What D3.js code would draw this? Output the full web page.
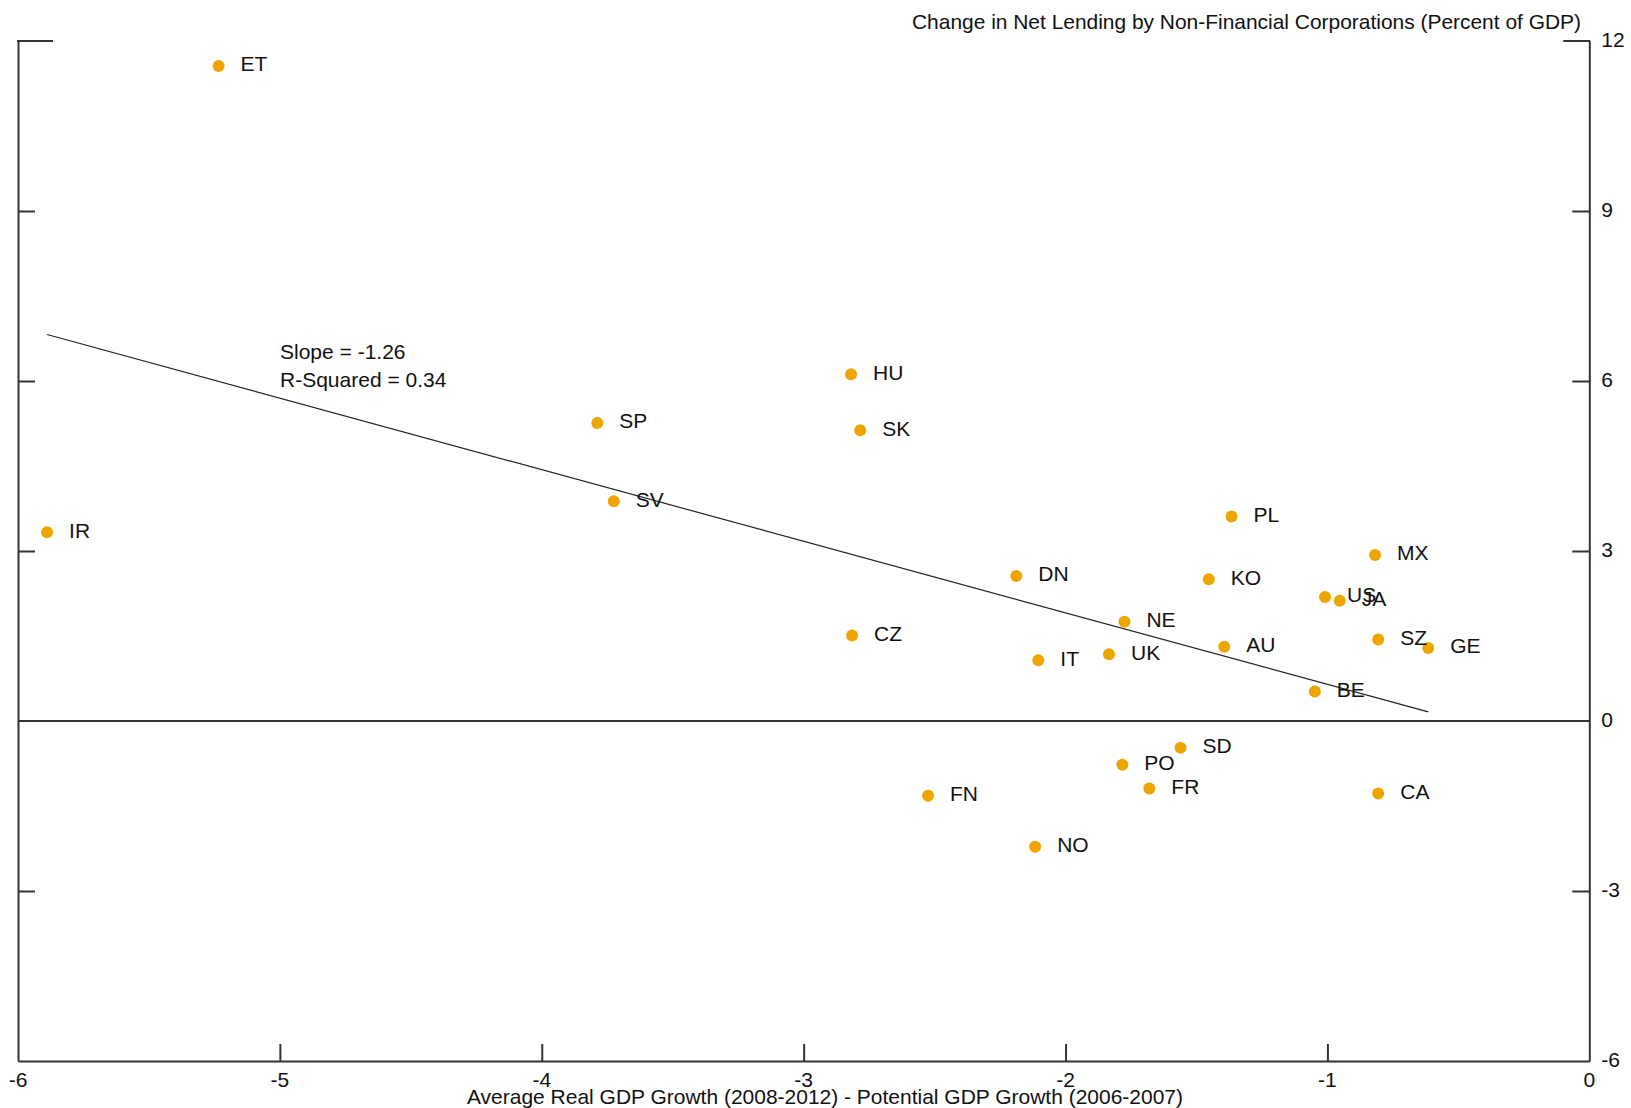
<!DOCTYPE html>
<html>
<head>
<meta charset="utf-8">
<script src="https://cdn.jsdelivr.net/npm/d3@7"></script>
<style>
  html, body { margin: 0; padding: 0; background: #fff; }
  svg { display: block; }
  text { font-family: "Liberation Sans", Arial, sans-serif; fill: #111; }
</style>
</head>
<body>
<svg id="chart" width="1631" height="1108"></svg>
<script>
// ---- Data ----
const countries = ["ET","IR","SP","SV","HU","SK","CZ","DN","IT","UK","NE","KO","PL","AU","US","JA","MX","SZ","GE","BE","SD","PO","FR","FN","NO","CA"];
const gdpGap    = [-5.234,-5.889,-3.788,-3.725,-2.819,-2.784,-2.815,-2.188,-2.104,-1.834,-1.775,-1.453,-1.366,-1.394,-1.009,-0.953,-0.818,-0.806,-0.615,-1.048,-1.561,-1.783,-1.680,-2.525,-2.116,-0.806];
const netLending= [11.56,3.33,5.26,3.88,6.12,5.13,1.51,2.56,1.07,1.18,1.75,2.50,3.61,1.31,2.19,2.12,2.93,1.44,1.29,0.52,-0.47,-0.77,-1.19,-1.32,-2.22,-1.28];
const fitX = [-5.889, -0.615];
const fitY = [6.82, 0.16];
const xTicks = [-6,-5,-4,-3,-2,-1,0];
const yTicks = [-6,-3,0,3,6,9,12];
const annotations = ["Slope = -1.26", "R-Squared = 0.34"];
const titleY = "Change in Net Lending by Non-Financial Corporations (Percent of GDP)";
const titleX = "Average Real GDP Growth (2008-2012) - Potential GDP Growth (2006-2007)";

// ---- Layout ----
const L = 18, R = 1589.3, T = 41, B = 1061;
const svg = d3.select("#chart");
const x = d3.scaleLinear().domain([-6, 0]).range([L, R]);
const y = d3.scaleLinear().domain([-6, 12]).range([B, T]);
const axisColor = "#333";
const fmt = d => String(d);

// Bottom axis with inward ticks
const gx = svg.append("g").attr("transform", `translate(0,${B})`)
  .call(d3.axisBottom(x).tickValues(xTicks).tickSize(-17).tickSizeOuter(0).tickPadding(0).tickFormat(""));
gx.select(".domain").attr("stroke", axisColor).attr("stroke-width", 2);
gx.selectAll(".tick line").attr("stroke", axisColor).attr("stroke-width", 2)
  .filter(d => d === -6 || d === 0).remove();

// Bottom tick labels
svg.append("g").selectAll("text").data(xTicks).join("text")
  .attr("x", d => x(d)).attr("y", 1087)
  .attr("text-anchor", "middle").attr("font-size", 21)
  .text(fmt);

// Left axis
const innerTicks = yTicks.filter(d => d > -6 && d < 12 && d !== 0);
const gl = svg.append("g").attr("transform", `translate(${L},0)`)
  .call(d3.axisRight(y).tickValues(innerTicks).tickSize(17).tickSizeOuter(0).tickFormat(""));
gl.select(".domain").attr("stroke", axisColor).attr("stroke-width", 2);
gl.selectAll(".tick line").attr("stroke", axisColor).attr("stroke-width", 2);

// Right axis
const gr = svg.append("g").attr("transform", `translate(${R},0)`)
  .call(d3.axisLeft(y).tickValues(innerTicks).tickSize(17).tickSizeOuter(0).tickFormat(""));
gr.select(".domain").attr("stroke", axisColor).attr("stroke-width", 2);
gr.selectAll(".tick line").attr("stroke", axisColor).attr("stroke-width", 2);

// Right axis labels
svg.append("g").selectAll("text").data(yTicks).join("text")
  .attr("x", R + 12).attr("y", d => y(d) + 5.5)
  .attr("font-size", 21)
  .text(fmt);

// Top corner segments
svg.append("line").attr("x1", L - 1).attr("x2", L + 35).attr("y1", T).attr("y2", T)
  .attr("stroke", axisColor).attr("stroke-width", 2);
svg.append("line").attr("x1", R - 26).attr("x2", R + 1).attr("y1", T).attr("y2", T)
  .attr("stroke", axisColor).attr("stroke-width", 2);

// Zero line
svg.append("line").attr("x1", L).attr("x2", R).attr("y1", y(0)).attr("y2", y(0))
  .attr("stroke", axisColor).attr("stroke-width", 2);

// Regression line
svg.append("path")
  .datum(fitX.map((v, i) => [v, fitY[i]]))
  .attr("d", d3.line().x(d => x(d[0])).y(d => y(d[1])))
  .attr("fill", "none").attr("stroke", "#222").attr("stroke-width", 1.2);

// Points
const pts = countries.map((c, i) => ({c, x: gdpGap[i], y: netLending[i]}));
svg.append("g").selectAll("circle").data(pts).join("circle")
  .attr("cx", d => x(d.x)).attr("cy", d => y(d.y)).attr("r", 6)
  .attr("fill", "#EFA500");
svg.append("g").selectAll("text").data(pts).join("text")
  .attr("x", d => x(d.x) + 22).attr("y", d => y(d.y) + 5.5)
  .attr("font-size", 21)
  .text(d => d.c);

// Annotation
svg.append("g").selectAll("text").data(annotations).join("text")
  .attr("x", 280).attr("y", (d, i) => 359 + i * 28)
  .attr("font-size", 21)
  .text(d => d);

// Titles
svg.append("text").attr("x", 912).attr("y", 29).attr("font-size", 21)
  .attr("textLength", 669).attr("lengthAdjust", "spacingAndGlyphs").text(titleY);
svg.append("text").attr("x", 467).attr("y", 1104).attr("font-size", 21)
  .attr("textLength", 716).attr("lengthAdjust", "spacingAndGlyphs").text(titleX);
</script>
</body>
</html>
